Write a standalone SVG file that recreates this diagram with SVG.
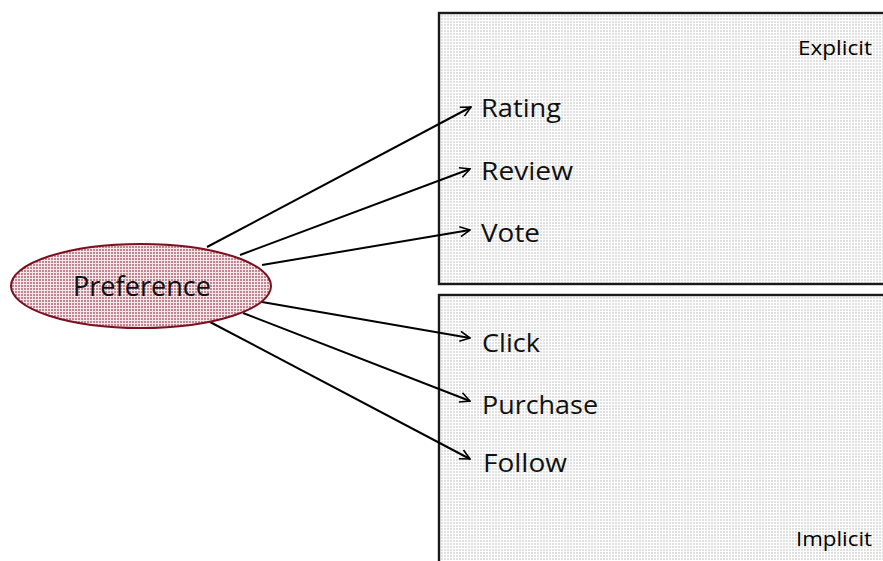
<svg xmlns="http://www.w3.org/2000/svg" width="883" height="561" viewBox="0 0 883 561">
<defs>
<pattern id="grey" width="3" height="3" patternUnits="userSpaceOnUse">
<rect width="3" height="3" fill="#ffffff"/>
<rect width="2" height="2" fill="#e0e0e0"/>
</pattern>
<pattern id="pink" width="3" height="3" patternUnits="userSpaceOnUse">
<rect width="3" height="3" fill="#f6e8ea"/>
<rect width="2" height="2" fill="#c08590"/>
</pattern>
<marker id="arr" viewBox="0 0 12 12" refX="11" refY="6" markerWidth="12" markerHeight="12" markerUnits="userSpaceOnUse" orient="auto">
<path d="M1,1 L11,6 L1,11" fill="none" stroke="#000" stroke-width="1.6"/>
</marker>
<style>
.box{fill:url(#grey);stroke:#1a1a1a;stroke-width:2.4}
.lbl{font-family:"Open Sans","Noto Sans",sans-serif;font-size:25px;fill:#111}
.cat{font-family:"Open Sans","Noto Sans",sans-serif;font-size:20.5px;fill:#000}
.con{stroke:#000;stroke-width:2;fill:none;marker-end:url(#arr)}
</style>
</defs>
<rect width="883" height="561" fill="#fff"/>
<g id="explicit">
<rect class="box" x="439" y="13" width="460" height="271"/>
<text class="cat" x="798" y="55" textLength="74" lengthAdjust="spacingAndGlyphs">Explicit</text>
</g>
<g id="implicit">
<rect class="box" x="439" y="295" width="460" height="290"/>
<text class="cat" x="796" y="546" textLength="76" lengthAdjust="spacingAndGlyphs">Implicit</text>
</g>
<g id="connectors">
<line class="con" x1="207" y1="247" x2="471" y2="107"/>
<line class="con" x1="240" y1="255" x2="470" y2="169"/>
<line class="con" x1="262" y1="265" x2="470" y2="230"/>
<line class="con" x1="262" y1="302" x2="470" y2="338"/>
<line class="con" x1="243" y1="313" x2="470" y2="401"/>
<line class="con" x1="210" y1="322" x2="470" y2="459"/>
</g>
<g id="preference">
<ellipse cx="141" cy="286" rx="130" ry="42" fill="url(#pink)" stroke="#7a1020" stroke-width="2"/>
<text x="73" y="296" textLength="138" lengthAdjust="spacingAndGlyphs" font-family="Open Sans, Noto Sans, sans-serif" font-size="27" fill="#111">Preference</text>
</g>
<g id="rating"><text class="lbl" x="481" y="117" textLength="80" lengthAdjust="spacingAndGlyphs">Rating</text></g>
<g id="review"><text class="lbl" x="481" y="180" textLength="92" lengthAdjust="spacingAndGlyphs">Review</text></g>
<g id="vote"><text class="lbl" x="481" y="242" textLength="59" lengthAdjust="spacingAndGlyphs">Vote</text></g>
<g id="click"><text class="lbl" x="482" y="352" textLength="58" lengthAdjust="spacingAndGlyphs">Click</text></g>
<g id="purchase"><text class="lbl" x="482" y="414" textLength="116" lengthAdjust="spacingAndGlyphs">Purchase</text></g>
<g id="follow"><text class="lbl" x="483" y="472" textLength="84" lengthAdjust="spacingAndGlyphs">Follow</text></g>
</svg>
